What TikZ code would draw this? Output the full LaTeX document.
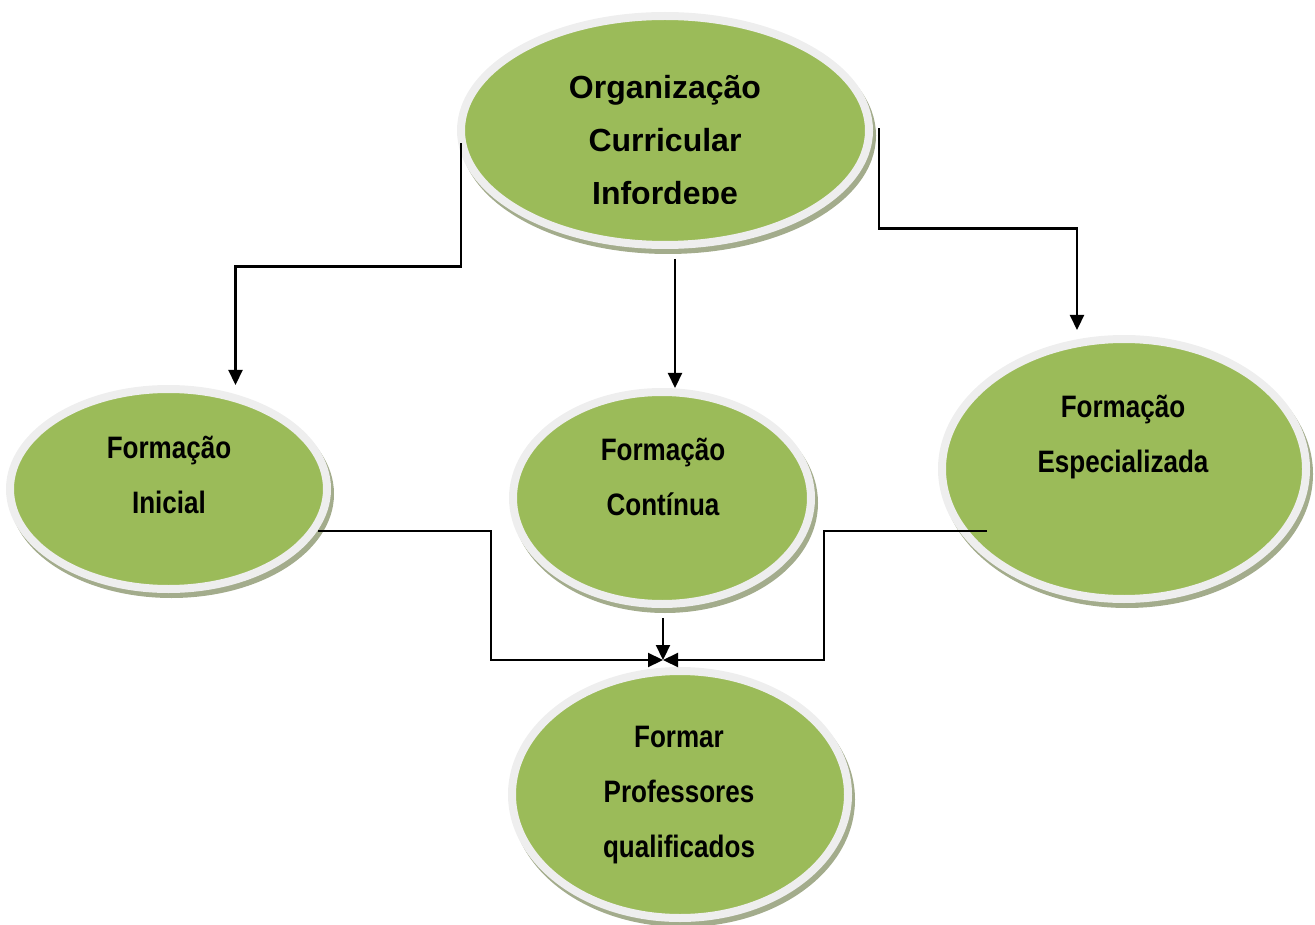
\documentclass[tikz,border=0pt]{standalone}
\usepackage{fontspec}
\setmainfont{Liberation Sans}
\newfontfamily\narrowfont{Liberation Sans}[FakeStretch=0.84]
\usetikzlibrary{shapes.geometric,arrows.meta}

\definecolor{leaf}{HTML}{9BBB59}
\definecolor{rim}{HTML}{EEEEEE}
\definecolor{shade}{RGB}{163,172,140}

\tikzset{
  bubble/.style={ellipse, fill=leaf, draw=rim, line width=8pt, inner sep=0pt,
    preaction={draw=shade, fill=shade, transform canvas={shift={(3pt,-5pt)}}}},
  wide/.style={align=center, inner sep=0pt, font=\bfseries\fontsize{32}{53}\selectfont},
  narrow/.style={align=center, inner sep=0pt, font=\narrowfont\bfseries\fontsize{31}{55}\selectfont},
  flow/.style={line width=2.2pt, -{Triangle[width=14pt,length=15pt]}},
}

\begin{document}
\begin{tikzpicture}[x=1pt,y=-1pt]
    \useasboundingbox (0,0) rectangle (1315,925);

    % The five bubbles.
    \node[bubble, minimum width=408pt, minimum height=229pt] (organizacao) at (665,130.5) {};
    \node[bubble, minimum width=317pt, minimum height=200pt] (inicial) at (168.5,489) {};
    \node[bubble, minimum width=298pt, minimum height=212pt] (continua) at (662,498) {};
    \node[bubble, minimum width=364pt, minimum height=260pt] (especial) at (1124,469) {};
    \node[bubble, minimum width=336pt, minimum height=247pt] (formar) at (680,794.5) {};

    % Top bubble down to the three kinds.
    \draw[flow] ([shift={(4pt,-13pt)}]organizacao.west) -- ++(0,123) -| ([xshift=67pt]inicial.north);
    \draw[flow] ([shift={(10pt,-10pt)}]organizacao.south) -- ([xshift=13pt]continua.north);
    \draw[flow] ([shift={(6pt,2pt)}]organizacao.east) -- ++(0,100) -| ([shift={(-47pt,5pt)}]especial.north);

    % Three kinds into the goal.
    \coordinate (meet) at ([shift={(-17pt,7pt)}]formar.north);
    \draw[flow] ([shift={(-13pt,-42pt)}]inicial.east) -- ++(173,0) |- (meet);
    \draw[flow] ([shift={(1pt,-10pt)}]continua.south) -- (meet);
    \draw[flow] ([shift={(49pt,-62pt)}]especial.west) -- ++(-163,0) |- (meet);

    % Texts.
    \begin{scope}
        \clip (457,0) rectangle (873,204);
        \node[wide] (organizacaotxt) at (665,143) {Organização\\Curricular\\Infordepe};
    \end{scope}
    \node[narrow] (inicialtxt) at (169,474.5) {Formação\\Inicial};
    \node[narrow] (continuatxt) at (663,476.5) {Formação\\Contínua};
    \node[narrow] (especialtxt) at (1123,437) {Formação\\Especializada};
    \node[narrow] (formartxt) at (679,795) {Formar\\Professores\\qualificados};
\end{tikzpicture}
\end{document}
